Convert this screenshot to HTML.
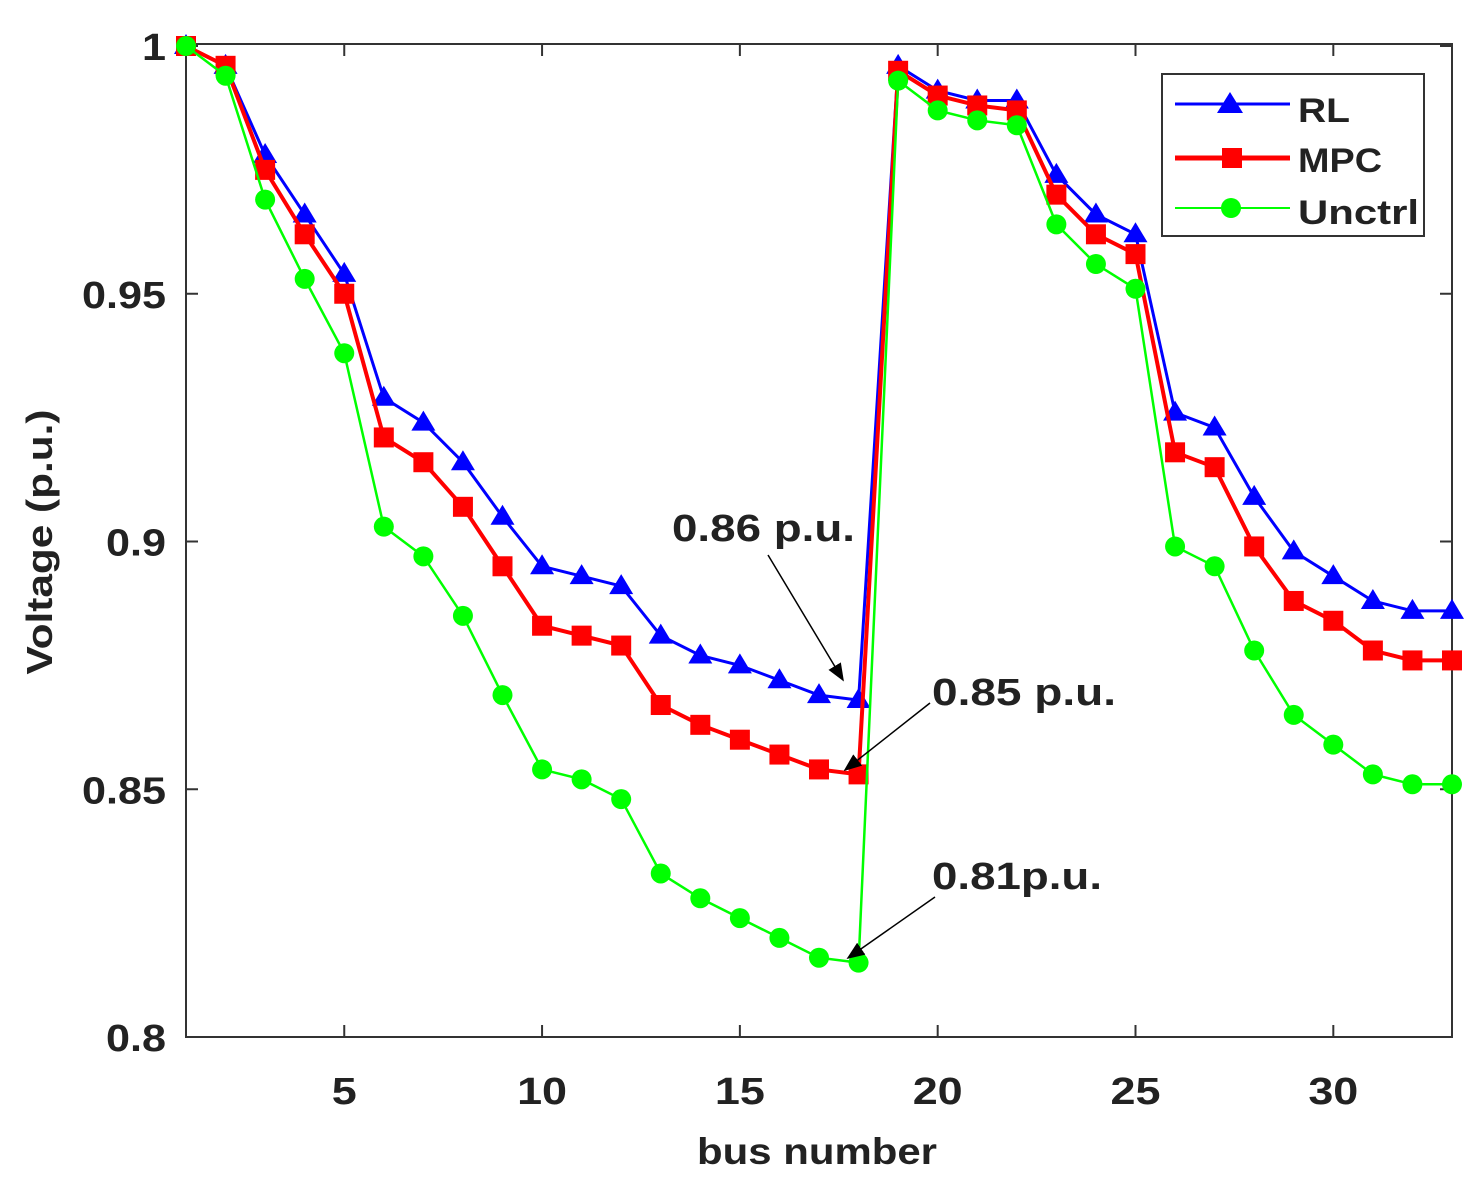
<!DOCTYPE html>
<html><head><meta charset="utf-8"><style>
body{margin:0;background:#fff}
svg text{font-family:"Liberation Sans",sans-serif;font-weight:bold;fill:#222}
</style></head><body>
<svg id="chart" width="1484" height="1190" xmlns="http://www.w3.org/2000/svg">
<defs><marker id="ah" viewBox="0 0 10 10" refX="9" refY="5" markerWidth="12" markerHeight="12" orient="auto"><path d="M0,1 L10,5 L0,9 z" fill="#000"/></marker></defs>
<rect x="186" y="44" width="1266" height="993" fill="#fff" stroke="#333" stroke-width="2"/>
<g id="ticks"></g><g id="series"></g>
<text transform="translate(52,542) rotate(-90)" text-anchor="middle" font-size="36" textLength="265" lengthAdjust="spacingAndGlyphs">Voltage (p.u.)</text>
<text x="817" y="1164" text-anchor="middle" font-size="37" textLength="240" lengthAdjust="spacingAndGlyphs">bus number</text>
<g>
<rect x="1162" y="74" width="262" height="162" fill="#fff" stroke="#333" stroke-width="2"/>
<line x1="1175" y1="104" x2="1290" y2="104" stroke="#0000ff" stroke-width="3"/>
<polygon points="1230,92 1243,113 1217,113" fill="#0000ff"/>
<text x="1298" y="122" font-size="34" textLength="52" lengthAdjust="spacingAndGlyphs">RL</text>
<line x1="1175" y1="158" x2="1290" y2="158" stroke="#ff0000" stroke-width="5"/>
<rect x="1222" y="148" width="20" height="20" fill="#ff0000"/>
<text x="1298" y="172" font-size="34" textLength="84" lengthAdjust="spacingAndGlyphs">MPC</text>
<line x1="1175" y1="208" x2="1290" y2="208" stroke="#00ff00" stroke-width="2"/>
<circle cx="1231" cy="208" r="10" fill="#00ff00"/>
<text x="1298" y="224" font-size="34" textLength="121" lengthAdjust="spacingAndGlyphs">Unctrl</text>
</g>
<g stroke="#000" stroke-width="1.5">
<line x1="768" y1="555" x2="843" y2="680" marker-end="url(#ah)"/>
<line x1="930" y1="703" x2="845" y2="770" marker-end="url(#ah)"/>
<line x1="935" y1="897" x2="848" y2="958" marker-end="url(#ah)"/>
</g>
<text x="672" y="541" font-size="38" textLength="183" lengthAdjust="spacingAndGlyphs">0.86 p.u.</text>
<text x="932" y="705" font-size="38" textLength="184" lengthAdjust="spacingAndGlyphs">0.85 p.u.</text>
<text x="932" y="889" font-size="38" textLength="170" lengthAdjust="spacingAndGlyphs">0.81p.u.</text>
</svg>
<script>
const buses=[1,2,3,4,5,6,7,8,9,10,11,12,13,14,15,16,17,18,19,20,21,22,23,24,25,26,27,28,29,30,31,32,33];
const rl=[1.0,0.996,0.978,0.966,0.954,0.929,0.924,0.916,0.905,0.895,0.893,0.891,0.881,0.877,0.875,0.872,0.869,0.868,0.996,0.991,0.989,0.989,0.974,0.966,0.962,0.926,0.923,0.909,0.898,0.893,0.888,0.886,0.886];
const mpc=[1.0,0.996,0.975,0.962,0.950,0.921,0.916,0.907,0.895,0.883,0.881,0.879,0.867,0.863,0.860,0.857,0.854,0.853,0.995,0.990,0.988,0.987,0.970,0.962,0.958,0.918,0.915,0.899,0.888,0.884,0.878,0.876,0.876];
const unctrl=[1.0,0.994,0.969,0.953,0.938,0.903,0.897,0.885,0.869,0.854,0.852,0.848,0.833,0.828,0.824,0.820,0.816,0.815,0.993,0.987,0.985,0.984,0.964,0.956,0.951,0.899,0.895,0.878,0.865,0.859,0.853,0.851,0.851];
const xTicks=[5,10,15,20,25,30];
const yTicks=[0.8,0.85,0.9,0.95,1];
const yTickLabels=["0.8","0.85","0.9","0.95","1"];
const NS="http://www.w3.org/2000/svg";
const X0=186,X1=1452,Y0=44,Y1=1037;
const xs=b=>X0+(b-1)/(33-1)*(X1-X0);
const ys=v=>Y1-(v-0.8)/0.2*(Y1-Y0-2);
function mk(tag,attrs,parent){const e=document.createElementNS(NS,tag);for(const k in attrs)e.setAttribute(k,attrs[k]);parent.appendChild(e);return e;}
const tg=document.getElementById('ticks');
xTicks.forEach(t=>{const x=xs(t);
 mk('line',{x1:x,y1:Y1,x2:x,y2:Y1-12,stroke:'#333','stroke-width':2},tg);
 mk('line',{x1:x,y1:Y0,x2:x,y2:Y0+12,stroke:'#333','stroke-width':2},tg);
 const s=String(t);
 const tx=mk('text',{x:x,y:1104,'text-anchor':'middle','font-size':38,textLength:s.length*25,lengthAdjust:'spacingAndGlyphs'},tg);tx.textContent=s;
 
 });
yTicks.forEach((t,i)=>{const y=ys(t);
 mk('line',{x1:X0,y1:y,x2:X0+12,y2:y,stroke:'#333','stroke-width':2},tg);
 mk('line',{x1:X1,y1:y,x2:X1-12,y2:y,stroke:'#333','stroke-width':2},tg);
 const s=yTickLabels[i];
 const w=s.replace('.','').length*24+(s.includes('.')?12:0);
 const tx=mk('text',{x:166,y:y+14,'text-anchor':'end','font-size':38,textLength:w,lengthAdjust:'spacingAndGlyphs'},tg);tx.textContent=s;
 
 });
const sg=document.getElementById('series');
function draw(vals,color,w,shape,name){
 const g=mk('g',{},sg);
 
 
 mk('polyline',{points:vals.map((v,i)=>xs(buses[i])+','+ys(v)).join(' '),fill:'none',stroke:color,'stroke-width':w},g);
 vals.forEach((v,i)=>{const x=xs(buses[i]),y=ys(v);let m;
  if(shape==='tri')m=mk('polygon',{points:`${x},${y-12} ${x+12},${y+8} ${x-12},${y+8}`,fill:color},g);
  else if(shape==='sq')m=mk('rect',{x:x-10,y:y-10,width:20,height:20,fill:color},g);
  else m=mk('circle',{cx:x,cy:y,r:10,fill:color},g);
  
  });
}
draw(rl,'#0000ff',3,'tri','series-rl');
draw(mpc,'#ff0000',4,'sq','series-mpc');
draw(unctrl,'#00ff00',2.5,'circ','series-unctrl');
</script>
</body></html>
